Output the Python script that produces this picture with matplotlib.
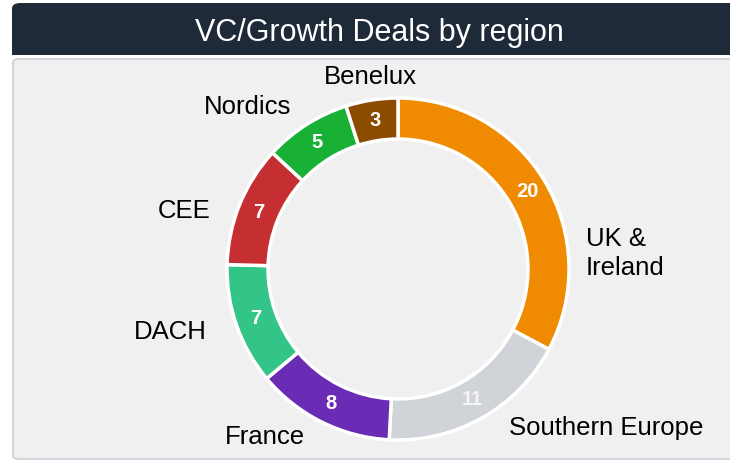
import matplotlib
matplotlib.use("Agg")
import numpy as np
import matplotlib.pyplot as plt
from matplotlib.patches import FancyBboxPatch

regions = ["UK &\nIreland", "Southern Europe", "France", "DACH", "CEE", "Nordics", "Benelux"]
deals = [20, 11, 8, 7, 7, 5, 3]
colors = ["#f08a00", "#d0d3d8", "#6a2bb5", "#33c487", "#c62f32", "#18b035", "#8b4c00"]
value_colors = ["white", "#f4f4f4", "white", "white", "white", "white", "white"]

# label positions (data units, outer radius = 1)
label_pos = [(1.10, 0.09), (1.22, -0.93), (-0.78, -0.98), (-1.33, -0.37),
             (-1.25, 0.34), (-0.88, 0.95), (-0.16, 1.12)]
label_ha = ["left", "center", "center", "center", "center", "center", "center"]

W, H = 730, 461
fig = plt.figure(figsize=(W / 100, H / 100), dpi=100)
fig.patch.set_facecolor("white")

# panel background
panel = FancyBboxPatch((13 / W, 2 / H), (W + 20 - 13) / W, 400 / H,
                       boxstyle="round,pad=0,rounding_size=0.008",
                       transform=fig.transFigure, facecolor="#f0f0f0",
                       edgecolor="#c9d0d8", linewidth=1.2, zorder=-2)
fig.patches.append(panel)

# title bar
bar = FancyBboxPatch((12 / W, (H - 55) / H), (W - 12 + 20) / W, 52 / H,
                     boxstyle="round,pad=0,rounding_size=0.012",
                     transform=fig.transFigure, facecolor="#1e2a38",
                     edgecolor="none", zorder=-1)
fig.patches.append(bar)
fig.patches.append(plt.Rectangle((12 / W, (H - 55) / H), 30 / W, 20 / H,
                                 transform=fig.transFigure, facecolor="#1e2a38",
                                 edgecolor="none", zorder=-1))
fig.text(379 / W, 1 - 33 / H, "VC/Growth Deals by region", color="white",
         fontsize=22, ha="center", va="center",
         family=["Liberation Sans", "DejaVu Sans"])

# donut
cx, cy, R = 398, 269, 171
ax = fig.add_axes([(cx - R * 1.5) / W, (H - cy - R * 1.5) / H, 3 * R / W, 3 * R / H])
ax.patch.set_visible(False)

wedges, _ = ax.pie(deals, colors=colors, startangle=90, counterclock=False,
                   radius=1.0, wedgeprops=dict(width=0.24, edgecolor="white", linewidth=2.5))
ax.set_xlim(-1.5, 1.5)
ax.set_ylim(-1.5, 1.5)
ax.axis("off")

total = sum(deals)
cum = 0
for i, v in enumerate(deals):
    mid = 90 - (cum + v / 2) / total * 360
    cum += v
    r = 0.88
    ax.text(r * np.cos(np.radians(mid)), r * np.sin(np.radians(mid)), str(v),
            ha="center", va="center", color=value_colors[i], fontsize=14.5,
            fontweight="bold", family=["Liberation Sans", "DejaVu Sans"])
    lx, ly = label_pos[i]
    ax.text(lx, ly, regions[i], ha=label_ha[i], va="center", fontsize=18.5,
            color="black", family=["Liberation Sans", "DejaVu Sans"], linespacing=1.3)

fig.savefig("out.png", dpi=100, facecolor="white")
